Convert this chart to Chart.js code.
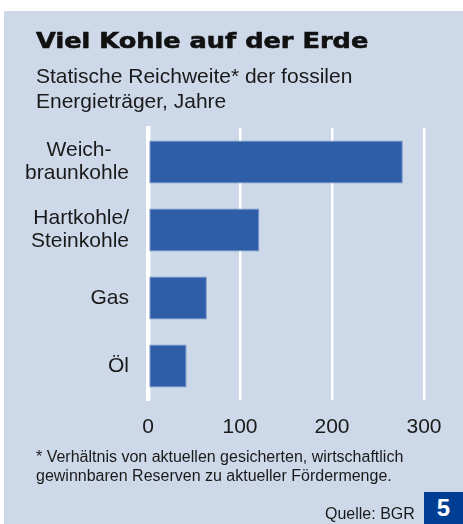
<!DOCTYPE html>
<html>
<head>
<meta charset="utf-8">
<script src="https://cdn.jsdelivr.net/npm/chart.js@4/dist/chart.umd.min.js"></script>
<style>
  html, body { margin:0; padding:0; background:#ffffff; }
  #wrap { position:relative; width:463px; height:524px; overflow:hidden; }
  #panel { position:absolute; left:4px; top:11px; width:459px; height:513px; background:#CDD8E9; }
  #c { position:absolute; left:0; top:0; }
  .txt { position:absolute; font-family:"Liberation Sans", Arial, sans-serif; color:#1a1a1a; white-space:nowrap; }
  #title { left:36px; top:28px; font-family:"DejaVu Sans", sans-serif; font-weight:bold; font-size:21px; line-height:26px;
           transform:scaleX(1.22); transform-origin:left top; -webkit-text-stroke:0.6px #111; color:#111; }
  #sub { left:36px; top:63px; font-size:21px; line-height:25px; }
  #foot { left:36px; top:447px; font-size:16px; line-height:19px; }
  #src { left:325px; top:504px; font-size:16px; line-height:19px; }
  #box { position:absolute; left:424px; top:492px; width:39px; height:32px; background:#003D94; color:#fff;
         font-family:"Liberation Sans", Arial, sans-serif; font-weight:bold; font-size:24px; line-height:32px; text-align:center; }
</style>
</head>
<body>
<div id="wrap">
  <div id="panel"></div>
  <canvas id="c" width="463" height="524"></canvas>
  <div class="txt" id="title">Viel Kohle auf der Erde</div>
  <div class="txt" id="sub">Statische Reichweite* der fossilen<br>Energieträger, Jahre</div>
  <div class="txt" id="foot">* Verhältnis von aktuellen gesicherten, wirtschaftlich<br>gewinnbaren Reserven zu aktueller Fördermenge.</div>
  <div class="txt" id="src">Quelle: BGR</div>
  <div id="box">5</div>
</div>
<script>
const categories = [["Weich-", "braunkohle"], ["Hartkohle/", "Steinkohle"], ["Gas"], ["Öl"]];
const values = [277, 121, 64, 42];
const xTicks = [0, 100, 200, 300];

const labelFont = '21px "Liberation Sans", Arial, sans-serif';
const mctx = document.createElement('canvas').getContext('2d');
mctx.font = labelFont;
// center lines of multi-line labels within their block (pad with spaces)
function centerLines(lines) {
  if (lines.length < 2) return lines[0];
  const w = lines.map(l => mctx.measureText(l).width);
  const maxW = Math.max(...w);
  const sp = mctx.measureText(' ').width;
  return lines.map((l, i) => {
    const n = Math.round((maxW - w[i]) / 2 / sp);
    return l + ' '.repeat(n);
  });
}

new Chart(document.getElementById('c'), {
  type: 'bar',
  data: {
    labels: categories.map(centerLines),
    datasets: [{
      data: values,
      backgroundColor: '#2F5EA9',
      borderColor: '#7D98C8',
      borderWidth: 1,
      borderSkipped: false,
      barPercentage: 0.63,
      categoryPercentage: 1.0
    }]
  },
  options: {
    indexAxis: 'y',
    responsive: false,
    animation: false,
    devicePixelRatio: 1,
    layout: { padding: { left: 0, right: 39, top: 128, bottom: 74 } },
    plugins: { legend: { display: false }, tooltip: { enabled: false }, title: { display: false } },
    scales: {
      x: {
        min: 0, max: 300,
        afterBuildTicks: s => { s.ticks = xTicks.map(v => ({ value: v })); },
        afterFit: s => { s.height = 50; },
        grid: { color: '#ffffff', lineWidth: 2.5, drawTicks: false },
        border: { display: false },
        ticks: { color: '#1a1a1a', font: { family: '"Liberation Sans", Arial, sans-serif', size: 21 }, padding: 15, maxRotation: 0 }
      },
      y: {
        z: 1,
        afterFit: s => { s.width = 148; },
        grid: { display: false, drawTicks: false },
        border: { display: true, color: '#ffffff', width: 4.5 },
        ticks: { color: '#1a1a1a', font: { family: '"Liberation Sans", Arial, sans-serif', size: 21, lineHeight: 1.1 }, padding: 19 }
      }
    }
  }
});
</script>
</body>
</html>
